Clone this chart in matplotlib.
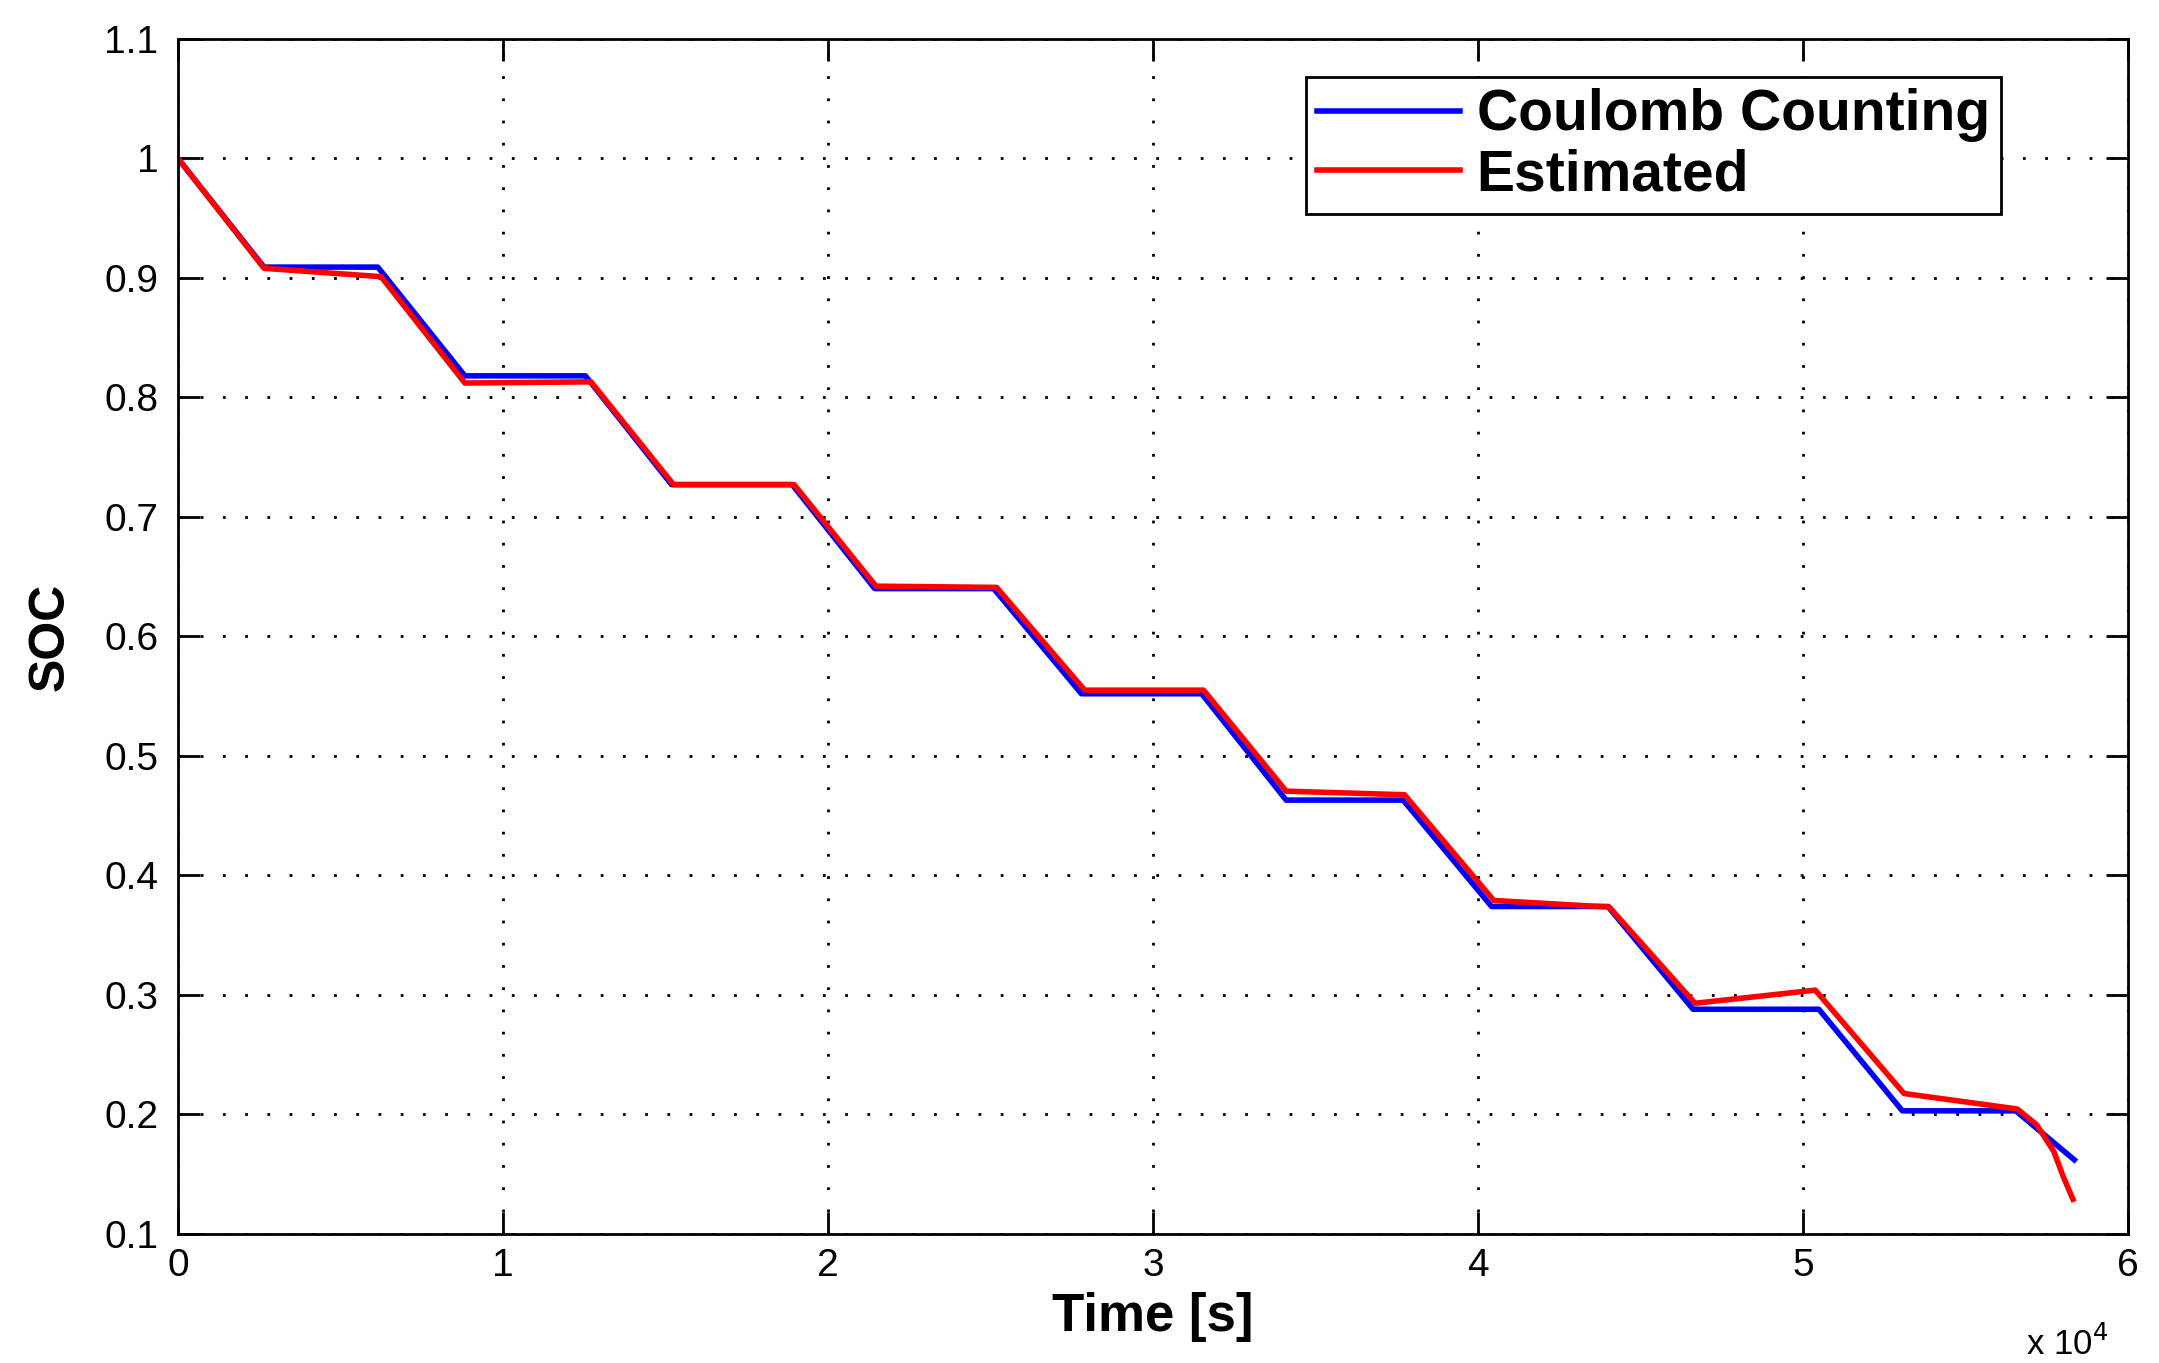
import matplotlib
matplotlib.use("Agg")
import matplotlib.pyplot as plt

plt.rcParams['font.family'] = ['Liberation Sans', 'DejaVu Sans']

# Coulomb counting reference (time in s, SOC)
t_cc = [0, 2650, 6150, 8830, 12540, 15190, 18900, 21440, 25100, 27800,
        31500, 34100, 37700, 40420, 44000, 46620, 50490, 53060, 56550, 58350]
soc_cc = [1.0, 0.909, 0.909, 0.818, 0.818, 0.727, 0.727, 0.640, 0.640, 0.552,
          0.552, 0.463, 0.463, 0.374, 0.374, 0.288, 0.288, 0.203, 0.203, 0.162]

# estimated SOC
t_est = [0, 2650, 6250, 8830, 12710, 15250, 18960, 21480, 25190, 27900,
         31560, 34100, 37740, 40490, 44040, 46680, 50380, 53110, 56600,
         57190, 57720, 58030, 58310]
soc_est = [1.0, 0.908, 0.901, 0.812, 0.813, 0.727, 0.727, 0.642, 0.641, 0.555,
           0.555, 0.4705, 0.4675, 0.379, 0.3735, 0.293, 0.304, 0.2175, 0.2045,
           0.1914, 0.169, 0.1466, 0.129]

x_ticks = [0, 1, 2, 3, 4, 5, 6]
y_ticks = [0.1, 0.2, 0.3, 0.4, 0.5, 0.6, 0.7, 0.8, 0.9, 1.0, 1.1]

fig = plt.figure(figsize=(21.59, 13.63), dpi=100)
ax = fig.add_axes([0.0824, 0.0947, 0.9032, 0.8768])

ax.plot(t_cc, soc_cc, color='#0000ff', lw=4, label='Coulomb Counting')
ax.plot(t_est, soc_est, color='#ff0000', lw=4, label='Estimated')

ax.set_xlim(0, 60000)
ax.set_ylim(0.1, 1.1)
ax.set_xticks([v * 1e4 for v in x_ticks])
ax.set_xticklabels([str(v) for v in x_ticks])
ax.set_yticks(y_ticks)
ax.set_yticklabels(['%g' % v for v in y_ticks])

ax.grid(True, color='black', linestyle=(0, (1, 7)), linewidth=2)
ax.tick_params(direction='in', length=16, width=2, labelsize=28,
               top=True, right=True)
ax.tick_params(axis='y', pad=14)
ax.tick_params(axis='x', pad=10)
for s in ax.spines.values():
    s.set_linewidth(2)

ax.set_xlabel('Time [s]', fontsize=38, fontweight='bold', labelpad=6)
ax.set_ylabel('SOC', fontsize=36, fontweight='bold', labelpad=22)
ax.text(0.99, -0.092, r'x 10$^4$', transform=ax.transAxes, fontsize=25,
        ha='right', va='center')

leg = ax.legend(loc='upper right', bbox_to_anchor=(0.935, 0.968),
                prop={'weight': 'bold', 'size': 41}, fancybox=False,
                framealpha=1, edgecolor='black', borderpad=0.2,
                handlelength=2.5, handletextpad=0.3, labelspacing=0.1,
                borderaxespad=0)
leg.get_frame().set_linewidth(2)

fig.savefig('out.png', dpi=100)
